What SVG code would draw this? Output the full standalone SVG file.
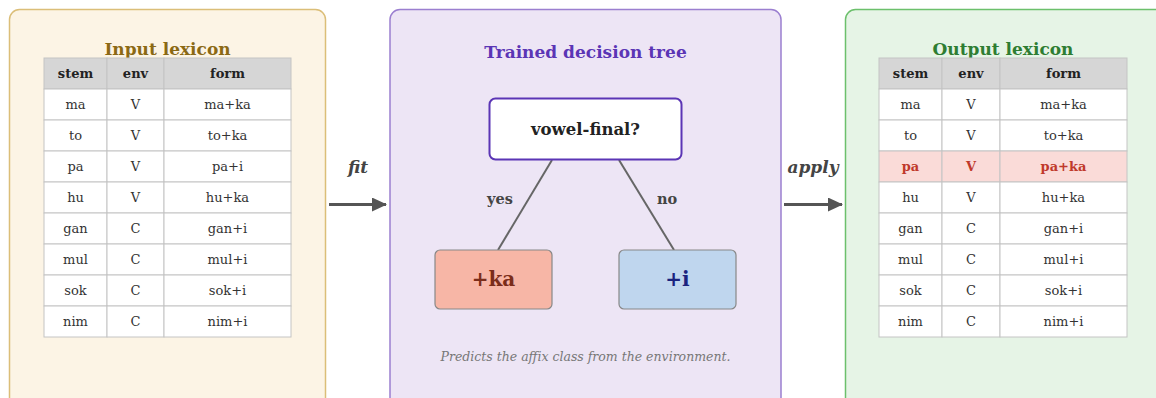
<svg xmlns="http://www.w3.org/2000/svg" width="1156" height="398" viewBox="0 0 1156 398">
<style>
text{font-family:"DejaVu Serif",serif;}
.title{font-size:17px;font-weight:bold;text-anchor:middle;}
.th{font-size:13px;font-weight:bold;fill:#222;text-anchor:middle;}
.td{font-size:13px;fill:#333;text-anchor:middle;}
.hl{font-size:13px;font-weight:bold;fill:#c0392b;text-anchor:middle;}
.cell{fill:#fff;stroke:#c4c4c4;stroke-width:1;}
.hcell{fill:#d6d6d6;stroke:#c4c4c4;stroke-width:1;}
.rcell{fill:#fadbd8;stroke:#c4c4c4;stroke-width:1;}
.edge{stroke:#666;stroke-width:2;fill:none;}
.lbl{font-size:14.5px;font-weight:bold;fill:#444;text-anchor:middle;}
.flow{stroke:#555;stroke-width:3;fill:none;}
.flbl{font-size:17px;font-weight:bold;font-style:italic;fill:#444;text-anchor:middle;}
</style>
<defs>
<marker id="ah" markerWidth="15" markerHeight="14" refX="14" refY="7" orient="auto" markerUnits="userSpaceOnUse"><path d="M0,0 L15,7 L0,14 Z" fill="#555"/></marker>
</defs>

<g id="input-lexicon">
<rect x="9.5" y="9.5" width="316" height="400" rx="10" fill="#fcf4e5" stroke="#dbbe78" stroke-width="1.5"/>
<text class="title" x="167.5" y="55" fill="#8b6914">Input lexicon</text>
<g>
<rect class="hcell" x="44" y="58" width="63" height="31"/><rect class="hcell" x="107" y="58" width="57" height="31"/><rect class="hcell" x="164" y="58" width="127" height="31"/>
<text class="th" x="75.5" y="78">stem</text><text class="th" x="135.5" y="78">env</text><text class="th" x="227.5" y="78">form</text>
</g>
<g>
<rect class="cell" x="44" y="89" width="63" height="31"/><rect class="cell" x="107" y="89" width="57" height="31"/><rect class="cell" x="164" y="89" width="127" height="31"/>
<rect class="cell" x="44" y="120" width="63" height="31"/><rect class="cell" x="107" y="120" width="57" height="31"/><rect class="cell" x="164" y="120" width="127" height="31"/>
<rect class="cell" x="44" y="151" width="63" height="31"/><rect class="cell" x="107" y="151" width="57" height="31"/><rect class="cell" x="164" y="151" width="127" height="31"/>
<rect class="cell" x="44" y="182" width="63" height="31"/><rect class="cell" x="107" y="182" width="57" height="31"/><rect class="cell" x="164" y="182" width="127" height="31"/>
<rect class="cell" x="44" y="213" width="63" height="31"/><rect class="cell" x="107" y="213" width="57" height="31"/><rect class="cell" x="164" y="213" width="127" height="31"/>
<rect class="cell" x="44" y="244" width="63" height="31"/><rect class="cell" x="107" y="244" width="57" height="31"/><rect class="cell" x="164" y="244" width="127" height="31"/>
<rect class="cell" x="44" y="275" width="63" height="31"/><rect class="cell" x="107" y="275" width="57" height="31"/><rect class="cell" x="164" y="275" width="127" height="31"/>
<rect class="cell" x="44" y="306" width="63" height="31"/><rect class="cell" x="107" y="306" width="57" height="31"/><rect class="cell" x="164" y="306" width="127" height="31"/>
<text class="td" x="75.5" y="109">ma</text><text class="td" x="135.5" y="109">V</text><text class="td" x="227.5" y="109">ma+ka</text>
<text class="td" x="75.5" y="140">to</text><text class="td" x="135.5" y="140">V</text><text class="td" x="227.5" y="140">to+ka</text>
<text class="td" x="75.5" y="171">pa</text><text class="td" x="135.5" y="171">V</text><text class="td" x="227.5" y="171">pa+i</text>
<text class="td" x="75.5" y="202">hu</text><text class="td" x="135.5" y="202">V</text><text class="td" x="227.5" y="202">hu+ka</text>
<text class="td" x="75.5" y="233">gan</text><text class="td" x="135.5" y="233">C</text><text class="td" x="227.5" y="233">gan+i</text>
<text class="td" x="75.5" y="264">mul</text><text class="td" x="135.5" y="264">C</text><text class="td" x="227.5" y="264">mul+i</text>
<text class="td" x="75.5" y="295">sok</text><text class="td" x="135.5" y="295">C</text><text class="td" x="227.5" y="295">sok+i</text>
<text class="td" x="75.5" y="326">nim</text><text class="td" x="135.5" y="326">C</text><text class="td" x="227.5" y="326">nim+i</text>
</g>
</g>

<g id="decision-tree">
<rect x="390" y="9.5" width="391" height="400" rx="10" fill="#ede5f5" stroke="#9b7fd0" stroke-width="1.5"/>
<text class="title" x="585.5" y="58" fill="#5b35b5">Trained decision tree</text>
<text x="585.5" y="361" font-size="12.5px" font-style="italic" fill="#777" text-anchor="middle">Predicts the affix class from the environment.</text>
</g>

<g id="connectors">
<line class="edge" x1="552" y1="160" x2="498" y2="250"/>
<line class="edge" x1="619" y1="160" x2="674" y2="250"/>
<text class="lbl" x="500" y="204">yes</text>
<text class="lbl" x="667" y="204">no</text>
<line class="flow" x1="329" y1="204.5" x2="386" y2="204.5" marker-end="url(#ah)"/>
<text class="flbl" x="358" y="173">fit</text>
<line class="flow" x1="784" y1="204.5" x2="842" y2="204.5" marker-end="url(#ah)"/>
<text class="flbl" x="813" y="173">apply</text>
</g>

<g id="root">
<rect x="489.5" y="98.5" width="192" height="61" rx="6" fill="#fff" stroke="#5b35b5" stroke-width="2"/>
<text x="585.5" y="135" font-size="16.5px" font-weight="bold" fill="#222" text-anchor="middle">vowel-final?</text>
</g>
<g id="leaf-ka">
<rect x="435" y="250" width="117" height="59" rx="5" fill="#f7b6a6" stroke="#888" stroke-width="1.2"/>
<text x="493.5" y="286" font-size="20px" font-weight="bold" fill="#7b2d1a" text-anchor="middle">+ka</text>
</g>
<g id="leaf-i">
<rect x="619" y="250" width="117" height="59" rx="5" fill="#bfd6ee" stroke="#888" stroke-width="1.2"/>
<text x="677.5" y="286" font-size="20px" font-weight="bold" fill="#1a237e" text-anchor="middle">+i</text>
</g>

<g id="output-lexicon">
<rect x="845.5" y="9.5" width="320" height="400" rx="10" fill="#e6f4e6" stroke="#6cc06c" stroke-width="1.5"/>
<text class="title" x="1003" y="55" fill="#2e7d32">Output lexicon</text>
<g>
<rect class="hcell" x="879" y="58" width="63" height="31"/><rect class="hcell" x="942" y="58" width="58" height="31"/><rect class="hcell" x="1000" y="58" width="127" height="31"/>
<text class="th" x="910.5" y="78">stem</text><text class="th" x="971" y="78">env</text><text class="th" x="1063.5" y="78">form</text>
</g>
<g>
<rect class="cell" x="879" y="89" width="63" height="31"/><rect class="cell" x="942" y="89" width="58" height="31"/><rect class="cell" x="1000" y="89" width="127" height="31"/>
<rect class="cell" x="879" y="120" width="63" height="31"/><rect class="cell" x="942" y="120" width="58" height="31"/><rect class="cell" x="1000" y="120" width="127" height="31"/>
<rect class="rcell" x="879" y="151" width="63" height="31"/><rect class="rcell" x="942" y="151" width="58" height="31"/><rect class="rcell" x="1000" y="151" width="127" height="31"/>
<rect class="cell" x="879" y="182" width="63" height="31"/><rect class="cell" x="942" y="182" width="58" height="31"/><rect class="cell" x="1000" y="182" width="127" height="31"/>
<rect class="cell" x="879" y="213" width="63" height="31"/><rect class="cell" x="942" y="213" width="58" height="31"/><rect class="cell" x="1000" y="213" width="127" height="31"/>
<rect class="cell" x="879" y="244" width="63" height="31"/><rect class="cell" x="942" y="244" width="58" height="31"/><rect class="cell" x="1000" y="244" width="127" height="31"/>
<rect class="cell" x="879" y="275" width="63" height="31"/><rect class="cell" x="942" y="275" width="58" height="31"/><rect class="cell" x="1000" y="275" width="127" height="31"/>
<rect class="cell" x="879" y="306" width="63" height="31"/><rect class="cell" x="942" y="306" width="58" height="31"/><rect class="cell" x="1000" y="306" width="127" height="31"/>
<text class="td" x="910.5" y="109">ma</text><text class="td" x="971" y="109">V</text><text class="td" x="1063.5" y="109">ma+ka</text>
<text class="td" x="910.5" y="140">to</text><text class="td" x="971" y="140">V</text><text class="td" x="1063.5" y="140">to+ka</text>
<text class="hl" x="910.5" y="171">pa</text><text class="hl" x="971" y="171">V</text><text class="hl" x="1063.5" y="171">pa+ka</text>
<text class="td" x="910.5" y="202">hu</text><text class="td" x="971" y="202">V</text><text class="td" x="1063.5" y="202">hu+ka</text>
<text class="td" x="910.5" y="233">gan</text><text class="td" x="971" y="233">C</text><text class="td" x="1063.5" y="233">gan+i</text>
<text class="td" x="910.5" y="264">mul</text><text class="td" x="971" y="264">C</text><text class="td" x="1063.5" y="264">mul+i</text>
<text class="td" x="910.5" y="295">sok</text><text class="td" x="971" y="295">C</text><text class="td" x="1063.5" y="295">sok+i</text>
<text class="td" x="910.5" y="326">nim</text><text class="td" x="971" y="326">C</text><text class="td" x="1063.5" y="326">nim+i</text>
</g>
</g>
</svg>
